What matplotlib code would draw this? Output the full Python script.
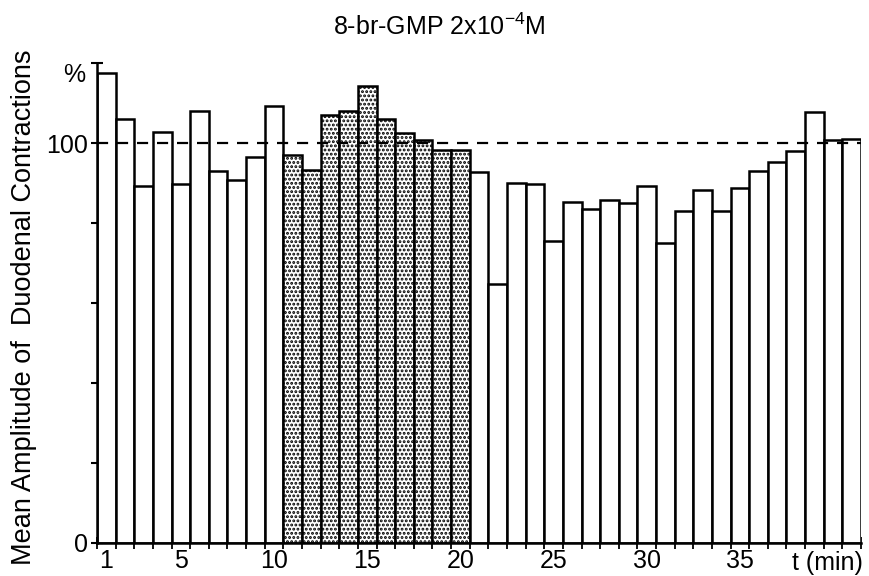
import matplotlib
matplotlib.use("Agg")
import matplotlib.pyplot as plt

plt.rcParams['font.family'] = ['Liberation Sans', 'DejaVu Sans']
plt.rcParams['mathtext.fontset'] = 'custom'
plt.rcParams['mathtext.rm'] = 'Liberation Sans'
plt.rcParams['mathtext.it'] = 'Liberation Sans:italic'
plt.rcParams['hatch.linewidth'] = 1.4

minutes = list(range(1, 42))
amplitude = [117.6, 106.0, 89.2, 102.8, 89.7, 108.0, 93.0, 90.7, 96.5, 109.3,
             96.9, 93.2, 107.0, 108.0, 114.3, 106.0, 102.6, 100.8, 98.3, 98.3,
             92.8, 64.8, 90.0, 89.7, 75.4, 85.2, 83.4, 85.7, 85.0, 89.2,
             75.1, 82.9, 88.2, 82.9, 88.7, 93.0, 95.2, 98.0, 107.8, 100.8, 101.0]
treated_minutes = list(range(11, 21))
xtick_labels = [1, 5, 10, 15, 20, 25, 30, 35]
ytick_values = [0, 20, 40, 60, 80, 100, 120]
ytick_labels = ['0', '', '', '', '', '100', '']
reference_level = 100

fig = plt.figure(figsize=(8.7, 5.76), dpi=100)
ax = fig.add_axes([0.1115, 0.0573, 0.8782, 0.8333])

for m, v in zip(minutes, amplitude):
    if m in treated_minutes:
        ax.bar(m, v, width=1.0, facecolor='white', edgecolor='black',
               linewidth=1.8, hatch='....', zorder=2)
    else:
        ax.bar(m, v, width=1.0, facecolor='white', edgecolor='black',
               linewidth=1.8, zorder=2)

ax.axhline(reference_level, color='black', linestyle=(0, (5, 4)),
           linewidth=1.6, zorder=3)

ax.set_xlim(0.5, len(minutes) + 0.5)
ax.set_ylim(0, 120)

ax.spines['top'].set_visible(False)
ax.spines['right'].set_visible(False)
ax.spines['left'].set_linewidth(1.8)
ax.spines['bottom'].set_linewidth(1.8)

ax.set_yticks(ytick_values)
ax.set_yticklabels(ytick_labels, fontsize=18)
ax.tick_params(axis='y', direction='inout', length=9, width=1.5, pad=2)
ax.text(-0.15, 117.0, '%', ha='right', va='center', fontsize=18)

edges = [m - 0.5 for m in minutes] + [minutes[-1] + 0.5]
ax.set_xticks(edges)
ax.set_xticklabels([])
ax.tick_params(axis='x', which='major', direction='inout', length=8, width=1.3)
ax.set_xticks(xtick_labels, minor=True)
ax.set_xticklabels([str(v) for v in xtick_labels], minor=True, fontsize=18)
ax.tick_params(axis='x', which='minor', length=0, pad=4)

ax.text(39.7, -2.0, 't (min)', ha='center', va='top', fontsize=18,
        transform=ax.transData)

fig.text(0.505, 0.953, '8-br-GMP 2x10$^{-4}$M', ha='center', va='center',
         fontsize=18)
fig.text(0.028, 0.467, 'Mean Amplitude of  Duodenal Contractions',
         rotation=90, ha='center', va='center', fontsize=19.5)

fig.savefig('out.png', dpi=100)
